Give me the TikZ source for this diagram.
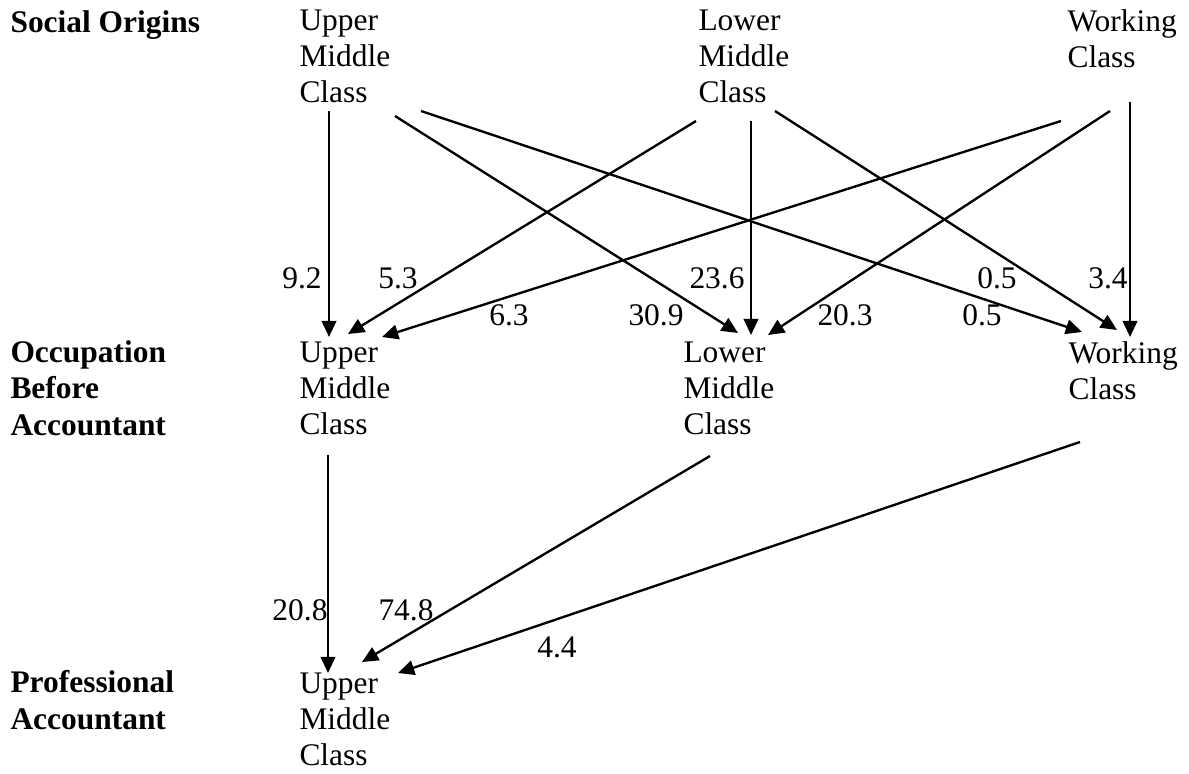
\documentclass[tikz,border=0pt]{standalone}
\usepackage{fontspec}
\setmainfont{Liberation Serif}
\usetikzlibrary{arrows.meta}

\tikzset{
  cls/.style={anchor=north west, align=left, inner sep=0pt, font=\fontsize{12}{13.9}\selectfont},
  lvl/.style={cls, font=\fontsize{12}{13.9}\selectfont\bfseries},
  pct/.style={inner sep=0pt, font=\fontsize{12}{13.9}\selectfont},
  flow/.style={-{Triangle[length=6.2pt,width=5.6pt]}, line width=0.9pt},
}

\begin{document}
\begin{tikzpicture}[x=0.3817pt, y=-0.3817pt]
  \useasboundingbox (0,0) rectangle (1189,773);

  % row labels
  \node[lvl] (origins) at (10,10) {Social Origins};
  \node[lvl] (before) at (10,340) {Occupation\\Before\\Accountant};
  \node[lvl] (prof) at (10,670) {Professional\\Accountant};

  % classes
  \node[cls] (um1) at (299,9) {Upper\\Middle\\Class};
  \node[cls] (lm1) at (698,9) {Lower\\Middle\\Class};
  \node[cls] (wc1) at (1067,9) {Working\\Class};

  \node[cls] (um2) at (299,341) {Upper\\Middle\\Class};
  \node[cls] (lm2) at (683,341) {Lower\\Middle\\Class};
  \node[cls] (wc2) at (1068,341) {Working\\Class};

  \node[cls] (um3) at (299,672) {Upper\\Middle\\Class};

  % origins -> occupation before
  \draw[flow] ([shift={(30,102)}]um1.north west) -- ([shift={(30,-4)}]um2.north west);
  \draw[flow] ([shift={(96,107)}]um1.north west) -- ([shift={(55,-8)}]lm2.north west);
  \draw[flow] ([shift={(122,102)}]um1.north west) -- ([shift={(14,-9)}]wc2.north west);
  \draw[flow] ([shift={(-2,112)}]lm1.north west) -- ([shift={(49,-7)}]um2.north west);
  \draw[flow] ([shift={(53,112)}]lm1.north west) -- ([shift={(68,-6)}]lm2.north west);
  \draw[flow] ([shift={(77,102)}]lm1.north west) -- ([shift={(49,-11)}]wc2.north west);
  \draw[flow] ([shift={(-6,112)}]wc1.north west) -- ([shift={(83,-4)}]um2.north west);
  \draw[flow] ([shift={(43,102)}]wc1.north west) -- ([shift={(85,-6)}]lm2.north west);
  \draw[flow] ([shift={(63,93)}]wc1.north west) -- ([shift={(62,-4)}]wc2.north west);

  % occupation before -> professional
  \draw[flow] ([shift={(29,114)}]um2.north west) -- ([shift={(29,1)}]um3.north west);
  \draw[flow] ([shift={(27,115)}]lm2.north west) -- ([shift={(63,-10)}]um3.north west);
  \draw[flow] ([shift={(12,101)}]wc2.north west) -- ([shift={(99,1)}]um3.north west);

  % percentages
  \node[pct] (p92) at (302,278) {9.2};
  \node[pct] (p53) at (398,278) {5.3};
  \node[pct] (p236) at (717,278) {23.6};
  \node[pct] (p05a) at (997,278) {0.5};
  \node[pct] (p34) at (1108,278) {3.4};
  \node[pct] (p63) at (509,315) {6.3};
  \node[pct] (p309) at (656,315) {30.9};
  \node[pct] (p203) at (845,315) {20.3};
  \node[pct] (p05b) at (982,315) {0.5};
  \node[pct] (p208) at (300,610) {20.8};
  \node[pct] (p748) at (406,610) {74.8};
  \node[pct] (p44) at (557,647) {4.4};
\end{tikzpicture}
\end{document}
